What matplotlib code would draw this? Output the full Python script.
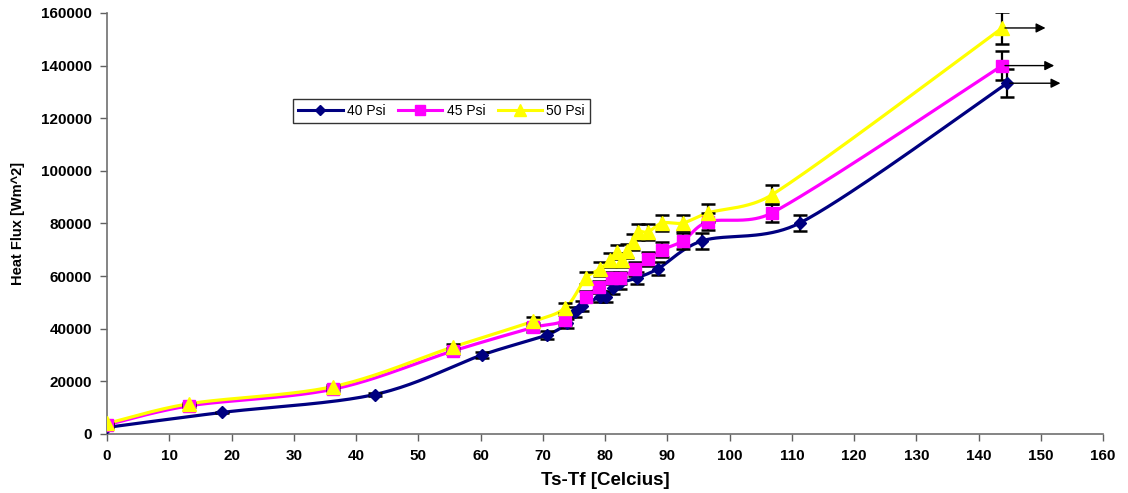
import numpy as np
import matplotlib
matplotlib.use("Agg")
import matplotlib.pyplot as plt

plt.rcParams['font.family'] = ['Liberation Sans', 'DejaVu Sans']

# ---- data ----
x40 = [0, 18.5, 43.0, 60.2, 70.6, 73.9, 75.2, 76.3, 79.2, 80.2, 81.3, 82.4, 85.1, 88.5, 95.6, 111.3, 144.6]
y40 = [2500, 8200, 15000, 30000, 37600, 42000, 46400, 48700, 52100, 52100, 55500, 57400, 59300, 62800, 73400, 80200, 133300]

x45 = [0, 13.2, 36.3, 55.5, 68.5, 73.6, 76.9, 79.0, 81.1, 82.4, 84.8, 86.9, 89.2, 92.5, 96.5, 106.8, 143.8]
y45 = [3500, 10700, 17000, 31500, 40500, 43300, 52100, 55900, 59300, 59300, 62700, 66500, 70000, 73400, 80600, 84000, 140000]

x50 = [0, 13.2, 36.3, 55.5, 68.4, 73.6, 76.9, 79.2, 80.8, 81.9, 82.7, 83.5, 84.5, 85.3, 86.9, 89.2, 92.5, 96.5, 106.8, 143.8]
y50 = [4000, 11500, 18000, 33000, 42800, 47900, 59300, 62700, 66200, 69200, 66200, 69600, 73000, 76800, 76800, 80200, 80200, 84000, 90900, 154300]

err_pct = 4.0  # percentage error bars

labels = ['40 Psi', '45 Psi', '50 Psi']
colors = ['#000080', '#FF00FF', '#FFFF00']
markers = ['D', 's', '^']
msizes = [6, 8, 10]

xticks = list(range(0, 161, 10))
yticks = list(range(0, 160001, 20000))

fig = plt.figure(figsize=(11.28, 4.93), dpi=100)
ax = fig.add_axes([0.0949, 0.1197, 0.883, 0.854])
ax.set_xlim(0, 160)
ax.set_ylim(0, 160000)


def smooth(x, y, n=40, clamp=0.4):
    # Bezier smoothing computed in display space (like a spreadsheet "smoothed line")
    P = ax.transData.transform(np.column_stack([x, y]))
    Pe = np.vstack([P[0], P, P[-1]])
    out = []
    t = np.linspace(0, 1, n)
    for i in range(1, len(Pe) - 2):
        p0, p1, p2, p3 = Pe[i - 1], Pe[i], Pe[i + 1], Pe[i + 2]
        chord = np.linalg.norm(p2 - p1)
        d1 = (p2 - p0) / 6.0
        d2 = (p3 - p1) / 6.0
        for d in (d1, d2):
            L = np.linalg.norm(d)
            if L > clamp * chord and L > 0:
                d *= clamp * chord / L
        c1 = p1 + d1
        c2 = p2 - d2
        seg = ((1 - t) ** 3)[:, None] * p1 + (3 * (1 - t) ** 2 * t)[:, None] * c1 \
            + (3 * (1 - t) * t ** 2)[:, None] * c2 + (t ** 3)[:, None] * p2
        out.append(seg)
    S = ax.transData.inverted().transform(np.vstack(out))
    return S[:, 0], S[:, 1]


series = [(x40, y40), (x45, y45), (x50, y50)]
handles = []
for (xs, ys), lab, c, m, ms in zip(series, labels, colors, markers, msizes):
    sx, sy = smooth(xs, ys)
    ax.plot(sx, sy, color=c, lw=2.3, zorder=2)
    yerr = np.asarray(ys) * err_pct / 100.0
    ax.errorbar(xs, ys, yerr=yerr, fmt='none', ecolor='black', elinewidth=1.6,
                capsize=5, capthick=1.8, zorder=3)
    ax.plot(xs, ys, linestyle='none', marker=m, color=c, markersize=ms,
            markeredgecolor=c, zorder=4)
    h, = ax.plot([], [], color=c, lw=2.2, marker=m, markersize=ms - 1, markeredgecolor=c)
    handles.append(h)

# arrows from the last points
for (xs, ys), xend in zip(series, [153.6, 152.6, 151.2]):
    ax.annotate('', xy=(xend, ys[-1]), xytext=(xs[-1], ys[-1]),
                arrowprops=dict(arrowstyle='-|>', color='black', lw=1.0,
                                mutation_scale=14), zorder=5)

ax.set_xticks(xticks)
ax.set_yticks(yticks)
ax.set_xticklabels([str(v) for v in xticks], fontsize=11, fontweight='bold')
ax.set_yticklabels([str(v) for v in yticks], fontsize=11, fontweight='bold')
ax.tick_params(direction='out', length=5, width=1, color='#606060', pad=6)
ax.spines['top'].set_visible(False)
ax.spines['right'].set_visible(False)
for s in ['left', 'bottom']:
    ax.spines[s].set_color('#707070')
    ax.spines[s].set_linewidth(1.2)

ax.set_xlabel('Ts-Tf [Celcius]', fontsize=13.5, fontweight='bold', labelpad=6)
ax.set_ylabel('Heat Flux [Wm^2]', fontsize=10.5, fontweight='bold', labelpad=11)

leg = ax.legend(handles, labels, loc='center left', bbox_to_anchor=(0.187, 0.767),
                ncol=3, frameon=True, fancybox=False, fontsize=10,
                handlelength=3.2, handletextpad=0.3, columnspacing=0.9,
                borderpad=0.35, borderaxespad=0)
leg.get_frame().set_edgecolor('black')
leg.get_frame().set_linewidth(1.0)

fig.savefig('out.png', dpi=100)
